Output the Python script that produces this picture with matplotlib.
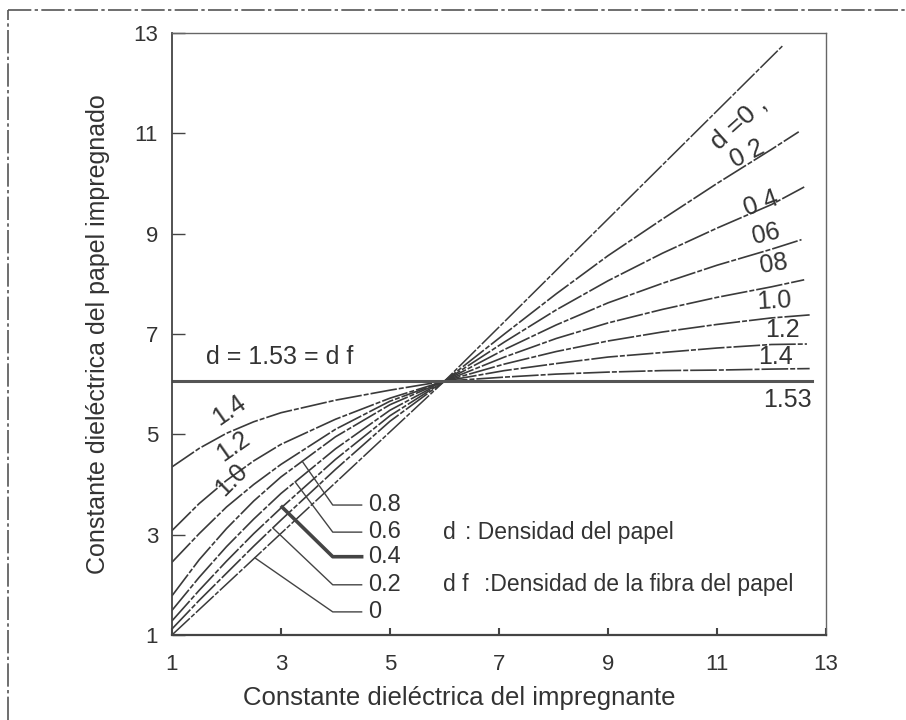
import numpy as np
import matplotlib
matplotlib.use("Agg")
import matplotlib.pyplot as plt
from matplotlib.lines import Line2D

plt.rcParams['font.family'] = ['Liberation Sans', 'DejaVu Sans']

# Dielectric constant of impregnated paper vs impregnant, one curve per paper density d
x_grid = [1, 1.5, 2, 2.5, 3, 4, 5, 6.0, 7.1, 8.05, 9.0, 10.0, 11.0, 12.0]
densities = ['0.2', '0.4', '0.6', '0.8', '1.0', '1.2', '1.4']
eps_paper = {
    '0.2': [1.12, 1.69, 2.23, 2.77, 3.29, 4.30, 5.26, 6.06, 7.00, 7.80, 8.56, 9.29, 10.00, 10.68],
    '0.4': [1.28, 1.89, 2.47, 3.02, 3.53, 4.50, 5.37, 6.06, 6.84, 7.48, 8.06, 8.61, 9.11, 9.58],
    '0.6': [1.49, 2.15, 2.76, 3.31, 3.82, 4.71, 5.48, 6.06, 6.69, 7.18, 7.62, 8.01, 8.37, 8.69],
    '0.8': [1.78, 2.50, 3.12, 3.67, 4.15, 4.95, 5.59, 6.06, 6.54, 6.91, 7.22, 7.49, 7.73, 7.94],
    '1.0': [2.45, 3.02, 3.55, 4.00, 4.40, 5.10, 5.66, 6.06, 6.40, 6.65, 6.86, 7.04, 7.19, 7.32],
    '1.2': [3.08, 3.62, 4.08, 4.47, 4.80, 5.30, 5.72, 6.06, 6.27, 6.41, 6.54, 6.63, 6.72, 6.79],
    '1.4': [4.35, 4.72, 5.02, 5.25, 5.43, 5.68, 5.88, 6.06, 6.14, 6.20, 6.24, 6.27, 6.28, 6.30],
}
x_end = {'0.2': 12.5, '0.4': 12.6, '0.6': 12.55, '0.8': 12.6, '1.0': 12.7, '1.2': 12.65, '1.4': 12.7}
y_end = {'0.2': 11.03, '0.4': 9.93, '0.6': 8.88, '0.8': 8.08, '1.0': 7.38, '1.2': 6.80, '1.4': 6.31}

# d = 0 (pure impregnant) and d = df = 1.53 (pure fibre)
x_d0 = [1, 6.0, 12.2]
y_d0 = [1, 6.06, 12.74]
x_df = [1, 12.75]
y_df = [6.06, 6.06]

# labels at the right end of the curves
right_labels = ['d =0 ,', '0 2', '0 4', '06', '08', '1.0', '1.2', '1.4', '1.53']
right_lx = [11.4, 11.55, 11.8, 11.9, 12.05, 12.05, 12.2, 12.08, 12.3]
right_ly = [11.2, 10.6, 9.6, 9.0, 8.4, 7.66, 7.07, 6.55, 5.69]
right_rot = [42, 27, 20, 13, 9, 3, 0, 0, 0]
right_size = [19, 18, 18, 18, 18, 18, 18, 18, 18]

# labels on the left side
left_labels = ['1.4', '1.2', '1.0']
left_lx = [2.05, 2.12, 2.1]
left_ly = [5.47, 4.76, 4.1]
left_rot = [35, 35, 45]

# leader-line labels for the low densities
lead_labels = ['0.8', '0.6', '0.4', '0.2', '0']
lead_keys = ['0.8', '0.6', '0.4', '0.2', '0']
lead_ty = [3.59, 3.05, 2.56, 2.0, 1.46]
lead_cx = [3.39, 3.26, 3.02, 2.85, 2.52]

fig = plt.figure(figsize=(9.06, 7.2), dpi=100)
ax = fig.add_axes([0.1898, 0.1181, 0.7219, 0.8361])

ink = '#3a3a3a'
txt = '#333333'
dash = (0, (16, 1.2, 3, 1.2))

ax.plot(x_d0, y_d0, color=ink, lw=1.1, linestyle=dash)
for d in densities:
    xs = x_grid + [x_end[d]]
    ys = eps_paper[d] + [y_end[d]]
    ax.plot(xs, ys, color=ink, lw=1.2, linestyle=dash)
ax.plot(x_df, y_df, color='#555555', lw=2.2)

for t, x, y, r, s in zip(right_labels, right_lx, right_ly, right_rot, right_size):
    ax.text(x, y, t, fontsize=s, color=txt, rotation=r,
            ha='center', va='center', rotation_mode='anchor')
for t, x, y, r in zip(left_labels, left_lx, left_ly, left_rot):
    ax.text(x, y, t, fontsize=18, color=txt, rotation=r,
            ha='center', va='center', rotation_mode='anchor')

ax.text(1.62, 6.55, 'd = 1.53 = d f', fontsize=18, color=txt, va='center')

for t, k, ty, cx in zip(lead_labels, lead_keys, lead_ty, lead_cx):
    if k == '0':
        cy = np.interp(cx, x_d0, y_d0)
    else:
        cy = np.interp(cx, x_grid, eps_paper[k])
    lw = 2.6 if k == '0.4' else 1.0
    ax.plot([cx, 3.95, 4.48], [cy, ty, ty], color='#444444', lw=lw)
    ax.text(4.6, ty, t, fontsize=17, color=txt, va='center')

ax.text(5.97, 3.04, 'd', fontsize=16.5, color=txt, va='center')
ax.text(6.38, 3.04, ': Densidad del papel', fontsize=16.5, color=txt, va='center')
ax.text(5.97, 2.0, 'd f', fontsize=16.5, color=txt, va='center')
ax.text(6.72, 2.0, ':Densidad de la fibra del papel', fontsize=16.5, color=txt,
        va='center')

ax.set_xlim(1, 13)
ax.set_ylim(1, 13)
ticks = [1, 3, 5, 7, 9, 11, 13]
ax.set_xticks(ticks)
ax.set_yticks(ticks)
ax.set_xticklabels([str(t) for t in ticks])
ax.set_yticklabels([str(t) for t in ticks])
ax.tick_params(axis='y', direction='in', length=9, width=1, pad=10, labelsize=16,
               labelcolor=txt, color='#444444')
ax.tick_params(axis='x', direction='in', length=5, width=1.5, pad=14, labelsize=16,
               labelcolor=txt, color='#444444')

for side in ['top', 'right']:
    ax.spines[side].set_color('#666666')
    ax.spines[side].set_linewidth(1.0)
ax.spines['left'].set_color('#444444')
ax.spines['left'].set_linewidth(1.3)
ax.spines['bottom'].set_color('#444444')
ax.spines['bottom'].set_linewidth(1.6)

ax.set_xlabel('Constante dieléctrica del impregnante', fontsize=18.5, color=txt)
ax.xaxis.set_label_coords(0.439, -0.085)
ax.set_ylabel('Constante dieléctrica del papel impregnado', fontsize=18, color=txt)
ax.yaxis.set_label_coords(-0.095, 0.5)

# dash-dot border along the top and left of the figure
frame = (0, (14, 2, 2, 2))
fig.add_artist(Line2D([0.009, 1.0], [0.986, 0.986], transform=fig.transFigure,
                      color='#555555', lw=1.2, linestyle=frame))
fig.add_artist(Line2D([0.009, 0.009], [0.0, 0.986], transform=fig.transFigure,
                      color='#555555', lw=1.2, linestyle=frame))

fig.savefig('out.png', dpi=100)
